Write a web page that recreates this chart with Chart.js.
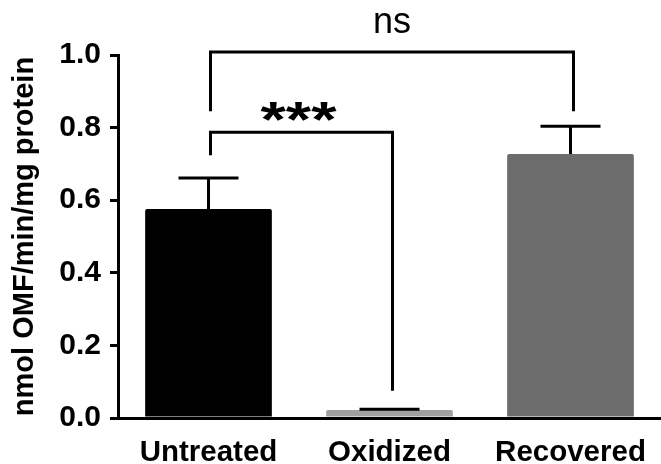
<!DOCTYPE html>
<html>
<head>
<meta charset="utf-8">
<script src="https://cdn.jsdelivr.net/npm/chart.js@4.4.1/dist/chart.umd.min.js"></script>
<style>
  html, body { margin: 0; padding: 0; background: #fff; }
</style>
</head>
<body>
<canvas id="chart" width="661" height="464"></canvas>
<script>
// data
const categories = ['Untreated', 'Oxidized', 'Recovered'];
const activity = [0.576, 0.022, 0.727];
const sem = [0.085, 0.002, 0.077];
const barColors = ['#000000', '#a0a0a0', '#6c6c6c'];
const yTicks = ['0.0', '0.2', '0.4', '0.6', '0.8', '1.0'];

// significance brackets (bar index pairs, level and drop ends in y units)
const bracketPairs = [[0, 1], [0, 2]];
const bracketLevels = [0.787, 1.008];
const bracketDrops = [[0.724, 0.075], [0.845, 0.845]];
const bracketLabels = ['***', 'ns'];

const FONT = '"Liberation Sans", Arial, sans-serif';

// error bars on top of each bar
const errorBars = {
  id: 'errorBars',
  afterDatasetsDraw(chart) {
    const ctx = chart.ctx;
    const y = chart.scales.y;
    const meta = chart.getDatasetMeta(0);
    ctx.save();
    ctx.strokeStyle = '#000';
    ctx.lineWidth = 3;
    meta.data.forEach((bar, i) => {
      const y0 = y.getPixelForValue(activity[i]);
      const y1 = y.getPixelForValue(activity[i] + sem[i]);
      ctx.beginPath();
      ctx.moveTo(bar.x, y0);
      ctx.lineTo(bar.x, y1);
      ctx.moveTo(bar.x - 30, y1);
      ctx.lineTo(bar.x + 30, y1);
      ctx.stroke();
    });
    ctx.restore();
  }
};

// significance brackets + labels
const brackets = {
  id: 'brackets',
  afterDraw(chart) {
    const ctx = chart.ctx;
    const y = chart.scales.y;
    const meta = chart.getDatasetMeta(0);
    ctx.save();
    ctx.strokeStyle = '#000';
    ctx.fillStyle = '#000';
    ctx.lineWidth = 3;
    ctx.lineJoin = 'miter';
    bracketPairs.forEach(([a, b], k) => {
      const xa = meta.data[a].x + 2;
      const xb = meta.data[b].x + 3;
      const yl = y.getPixelForValue(bracketLevels[k]);
      ctx.beginPath();
      ctx.moveTo(xa, y.getPixelForValue(bracketDrops[k][0]));
      ctx.lineTo(xa, yl);
      ctx.lineTo(xb, yl);
      ctx.lineTo(xb, y.getPixelForValue(bracketDrops[k][1]));
      ctx.stroke();

      const xm = (xa + xb) / 2;
      ctx.textAlign = 'center';
      ctx.textBaseline = 'alphabetic';
      if (bracketLabels[k] === 'ns') {
        ctx.font = '36px ' + FONT;
        ctx.fillText(bracketLabels[k], xm, yl - 19);
      } else {
        ctx.save();
        ctx.translate(xm - 3, yl + 5);
        ctx.scale(1.3, 1);
        ctx.font = 'bold 50px ' + FONT;
        ctx.fillText(bracketLabels[k], 0, 0);
        ctx.restore();
      }
    });
    ctx.restore();
  }
};

new Chart(document.getElementById('chart'), {
  type: 'bar',
  data: {
    labels: categories,
    datasets: [{
      data: activity,
      backgroundColor: barColors,
      borderWidth: 0,
      borderRadius: 2,
      borderSkipped: 'bottom',
      barPercentage: 0.7,
      categoryPercentage: 1.0,
    }],
  },
  options: {
    responsive: false,
    animation: false,
    devicePixelRatio: 1,
    layout: { padding: { top: 55, right: 0, left: 0, bottom: 0 } },
    plugins: {
      legend: { display: false },
      tooltip: { enabled: false },
    },
    scales: {
      x: {
        offset: true,
        grid: { display: false },
        border: { display: true, color: '#000', width: 3 },
        ticks: {
          color: '#000',
          font: { family: FONT, size: 29.5, weight: 'bold' },
          padding: 9,
          maxRotation: 0,
          autoSkip: false,
        },
        afterFit: (s) => { s.height = 46; },
      },
      y: {
        min: 0,
        max: 1,
        ticks: {
          stepSize: 0.2,
          color: '#000',
          font: { family: FONT, size: 30, weight: 'bold' },
          padding: 9,
          callback: (v, i) => yTicks[i],
        },
        grid: {
          drawOnChartArea: false,
          drawTicks: true,
          tickLength: 8,
          lineWidth: 3,
          color: '#000',
        },
        border: { display: true, color: '#000', width: 3 },
        title: {
          display: true,
          text: 'nmol OMF/min/mg protein',
          color: '#000',
          font: { family: FONT, size: 29, weight: 'bold' },
          padding: { top: 8, bottom: 0 },
          align: 'center',
        },
        afterFit: (s) => { s.width = 118; },
      },
    },
  },
  plugins: [errorBars, brackets],
});
</script>
</body>
</html>
